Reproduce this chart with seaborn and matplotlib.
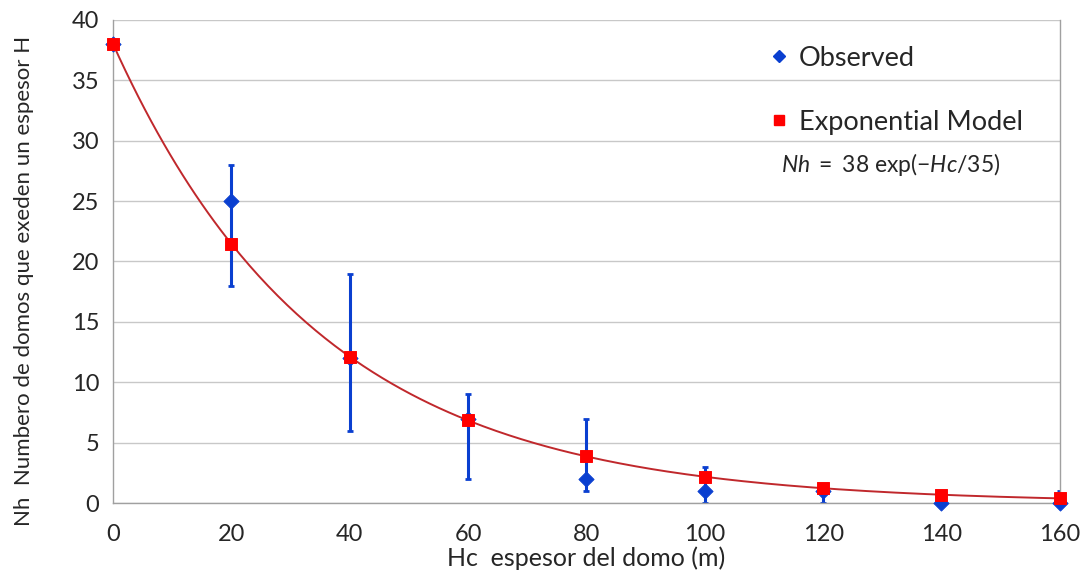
import numpy as np
import pandas as pd
import matplotlib
matplotlib.use("Agg")
import matplotlib.pyplot as plt
import seaborn as sns
from matplotlib.lines import Line2D

sns.set_style("white")
plt.rcParams['font.family'] = ['Lato', 'DejaVu Sans']
plt.rcParams['mathtext.fontset'] = 'custom'
plt.rcParams['mathtext.it'] = 'Lato:italic'
plt.rcParams['mathtext.rm'] = 'Lato'

# observed counts and their error ranges
hc = [0, 20, 40, 60, 80, 100, 120, 140, 160]
observed = [38, 25, 12, 7, 2, 1, 1, 0, 0]
err_low = [38, 18, 6, 2, 1, 0, 0, 0, 0]
err_high = [38, 28, 19, 9, 7, 3, 1, 0, 1]

# exponential model parameters as given on the chart
n0 = 38
scale = 35

obs = pd.DataFrame({"hc": hc, "nh": observed})
obs["lo"] = obs["nh"] - np.array(err_low)
obs["hi"] = np.array(err_high) - obs["nh"]

model_pts = pd.DataFrame({"hc": hc})
model_pts["nh"] = n0 * np.exp(-model_pts["hc"] / scale)
xs = np.linspace(0, 160, 300)
curve = pd.DataFrame({"hc": xs, "nh": n0 * np.exp(-xs / scale)})

blue = "#0a3fd0"
red = "#ff0000"

fig, ax = plt.subplots(figsize=(10.87, 5.83), dpi=100)
fig.subplots_adjust(left=0.104, right=0.975, bottom=0.137, top=0.966)

ax.errorbar(obs["hc"], obs["nh"], yerr=[obs["lo"], obs["hi"]], fmt="none",
            ecolor=blue, elinewidth=2.2, capsize=2.5, capthick=2, zorder=2)
sns.scatterplot(data=obs, x="hc", y="nh", marker="D", s=60, color=blue,
                edgecolor=blue, ax=ax, zorder=3, clip_on=False)
sns.lineplot(data=curve, x="hc", y="nh", color="#c0282c", linewidth=1.4,
             ax=ax, zorder=4)
sns.scatterplot(data=model_pts, x="hc", y="nh", marker="s", s=70, color=red,
                edgecolor=red, ax=ax, zorder=5, clip_on=False)

ax.set_xlim(0, 160)
ax.set_ylim(0, 40)
ax.set_xticks(range(0, 161, 20))
ax.set_yticks(range(0, 41, 5))
ax.yaxis.grid(True, color="#c8c8c8", linewidth=1)
ax.set_axisbelow(True)
for s in ["left", "right", "bottom"]:
    ax.spines[s].set_color("#a0a0a0")
    ax.spines[s].set_linewidth(1)
ax.spines["top"].set_visible(False)
ax.tick_params(axis="x", length=6, color="#a0a0a0", labelsize=17, pad=9)
ax.tick_params(axis="y", length=0, labelsize=17, pad=10)

ax.set_xlabel("Hc  espesor del domo (m)", fontsize=18, labelpad=1)
ax.set_ylabel("Nh  Numbero de domos que exeden un espesor H", fontsize=16)
ax.yaxis.set_label_coords(-0.083, 0.46)

handles = [
    Line2D([], [], marker="D", color=blue, linestyle="none", markersize=6.5),
    Line2D([], [], marker="s", color=red, linestyle="none", markersize=6.5),
]
ax.legend(handles, ["Observed", "Exponential Model"], loc="upper left",
          bbox_to_anchor=(0.663, 0.997), frameon=False, fontsize=19.5,
          labelspacing=1.45, handletextpad=0.25, handlelength=1.0)
ax.text(0.705, 0.685, r"$\mathit{Nh\ {=}\ 38}$ exp($\mathit{{-}Hc/35)}$",
        transform=ax.transAxes, fontsize=16.5)

fig.savefig("out.png", dpi=100)
